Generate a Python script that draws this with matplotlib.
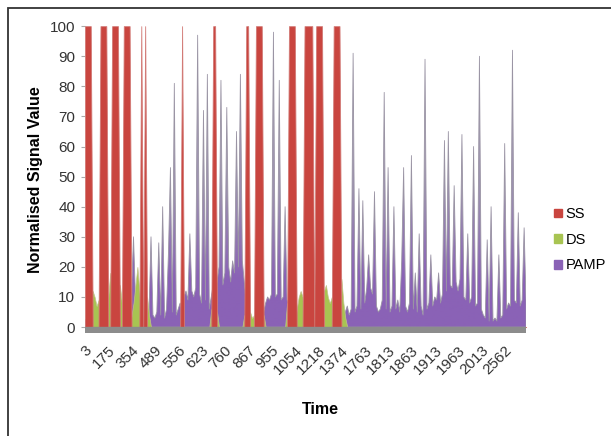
import numpy as np
import matplotlib
matplotlib.use('Agg')
import matplotlib.pyplot as plt
from matplotlib.patches import Patch, Rectangle, PathPatch
from matplotlib.path import Path
from matplotlib.colors import LinearSegmentedColormap

plt.rcParams['font.family'] = ['Liberation Sans', 'DejaVu Sans']

# Etiquetes de l'eix de temps (una cada 12 mostres)
time_labels = ['3', '175', '354', '489', '556', '623', '760', '867', '955', '1054',
               '1218', '1374', '1763', '1813', '1863', '1913', '1963', '2013', '2562']

# Senyal SS (una fila = 12 mostres)
ss = [100, 100, 100, 100, 0, 0, 0, 0, 100, 100, 100, 100,
      0, 0, 100, 100, 100, 100, 0, 0, 100, 100, 100, 100,
      0, 0, 0, 0, 0, 100, 0, 100, 0, 0, 0, 0,
      0, 0, 0, 0, 0, 0, 0, 0, 0, 0, 0, 0,
      0, 0, 100, 0, 0, 0, 0, 0, 0, 0, 0, 0,
      0, 0, 0, 0, 0, 0, 100, 100, 0, 0, 0, 0,
      0, 0, 0, 0, 0, 0, 0, 0, 0, 0, 0, 100,
      100, 0, 0, 0, 100, 100, 100, 100, 0, 0, 0, 0,
      0, 0, 0, 0, 0, 0, 0, 0, 0, 100, 100, 100,
      100, 0, 0, 0, 0, 100, 100, 100, 100, 100, 0, 100,
      100, 100, 100, 0, 0, 0, 0, 0, 100, 100, 100, 100,
      0, 0, 0, 0, 0, 0, 0, 0, 0, 0, 0, 0,
      0, 0, 0, 0, 0, 0, 0, 0, 0, 0, 0, 0,
      0, 0, 0, 0, 0, 0, 0, 0, 0, 0, 0, 0,
      0, 0, 0, 0, 0, 0, 0, 0, 0, 0, 0, 0,
      0, 0, 0, 0, 0, 0, 0, 0, 0, 0, 0, 0,
      0, 0, 0, 0, 0, 0, 0, 0, 0, 0, 0, 0,
      0, 0, 0, 0, 0, 0, 0, 0, 0, 0, 0, 0,
      0, 0, 0, 0, 0, 0, 0, 0, 0, 0, 0, 0]

# Senyal DS
ds = [0, 0, 0, 0, 12, 10, 7, 9, 0, 0, 0, 0,
      10, 18, 0, 0, 0, 0, 14, 8, 0, 0, 0, 0,
      4, 8, 14, 20, 12, 0, 15, 0, 10, 4, 0, 0,
      0, 0, 0, 0, 0, 0, 0, 0, 0, 0, 0, 0,
      0, 0, 0, 0, 0, 0, 0, 0, 0, 0, 0, 0,
      0, 0, 0, 0, 0, 6, 0, 0, 5, 0, 0, 0,
      0, 0, 0, 0, 0, 0, 0, 0, 0, 0, 4, 0,
      0, 5, 3, 4, 0, 0, 0, 0, 4, 0, 0, 0,
      0, 0, 0, 0, 0, 0, 0, 0, 8, 0, 0, 0,
      0, 6, 10, 12, 10, 0, 0, 0, 0, 0, 14, 0,
      0, 0, 0, 12, 14, 10, 8, 10, 0, 0, 0, 0,
      16, 8, 3, 0, 0, 0, 0, 0, 0, 0, 0, 0,
      0, 0, 0, 0, 0, 0, 0, 0, 0, 0, 0, 0,
      0, 0, 0, 0, 0, 0, 0, 0, 0, 0, 0, 0,
      0, 0, 0, 0, 0, 0, 0, 0, 0, 0, 0, 0,
      0, 0, 0, 0, 0, 0, 0, 0, 0, 0, 0, 0,
      0, 0, 0, 0, 0, 0, 0, 0, 0, 0, 0, 0,
      0, 0, 0, 0, 0, 0, 0, 0, 0, 0, 0, 0,
      0, 0, 0, 0, 0, 0, 0, 0, 0, 0, 0, 0]

# Senyal PAMP
pamp = [2, 3, 3, 4, 5, 4, 3, 2, 3, 3, 2, 5,
        6, 4, 3, 2, 3, 2, 4, 5, 3, 2, 4, 6,
        12, 30, 10, 5, 3, 2, 4, 3, 3, 5, 30, 4,
        3, 5, 28, 4, 40, 3, 6, 25, 53, 5, 81, 4,
        6, 8, 5, 10, 12, 9, 31, 12, 10, 13, 97, 11,
        8, 72, 9, 84, 6, 10, 14, 12, 15, 20, 82, 14,
        18, 73, 20, 15, 22, 18, 65, 20, 84, 22, 15, 8,
        5, 4, 2, 2, 3, 2, 2, 3, 5, 8, 10, 9,
        11, 98, 10, 11, 82, 9, 10, 40, 9, 8, 4, 3,
        3, 5, 4, 3, 3, 2, 2, 3, 2, 3, 4, 3,
        2, 3, 2, 4, 5, 6, 4, 3, 5, 3, 2, 3,
        3, 6, 5, 7, 4, 6, 91, 5, 7, 46, 6, 42,
        8, 13, 24, 13, 11, 45, 7, 5, 6, 9, 78, 6,
        53, 5, 7, 40, 6, 9, 5, 22, 53, 7, 5, 8,
        57, 6, 18, 5, 31, 7, 4, 89, 6, 8, 24, 7,
        10, 9, 18, 8, 11, 62, 12, 65, 14, 13, 47, 15,
        12, 16, 64, 10, 9, 31, 8, 10, 60, 7, 8, 90,
        6, 4, 3, 29, 2, 40, 2, 3, 2, 24, 3, 4,
        61, 6, 8, 7, 92, 9, 8, 38, 7, 9, 33, 8]

x = np.arange(len(pamp))
tick_step = 12
c_ss, c_ds, c_pamp = '#c9453f', '#a8c452', '#8a62b6'

fig = plt.figure(figsize=(6.11, 4.36), dpi=100)
ax = fig.add_axes([0.139, 0.236, 0.722, 0.704])

# PAMP al fons: lila a baix, gris a les puntes (com les cares del grafic 3D)
poly = ax.fill_between(x, 0, pamp, facecolor='none', edgecolor='#9a94a4', linewidth=0.6, zorder=2)
cmap = LinearSegmentedColormap.from_list('pamp', [(0, c_pamp), (0.16, c_pamp),
                                                  (0.45, '#9c90b0'), (1, '#b4aebe')])
grad = np.linspace(0, 1, 256).reshape(-1, 1)
im = ax.imshow(grad, extent=[0, len(pamp) - 1, 0, 100], origin='lower', aspect='auto',
               cmap=cmap, zorder=1.9)
clip = PathPatch(Path.make_compound_path(*poly.get_paths()), transform=ax.transData)
im.set_clip_path(clip)

ax.fill_between(x, 0, ds, facecolor=c_ds, edgecolor='#c3c28e', linewidth=0.5, zorder=3)
ax.fill_between(x, 0, ss, facecolor=c_ss, edgecolor='#d27a76', linewidth=0.6, zorder=4)

# Terra gris del grafic 3D
ax.axhspan(-2.0, 0, color='#8c8c8c', zorder=5)

ax.set_xlim(0, len(pamp) - 1)
ax.set_ylim(-2.0, 100)
ax.set_yticks(np.arange(0, 101, 10))
ax.set_xticks(x[::tick_step][:len(time_labels)])
ax.set_xticklabels(time_labels, rotation=45, ha='right', rotation_mode='anchor')
ax.tick_params(axis='y', labelsize=11, colors='#333333', length=3, color='#aaaaaa', pad=4)
ax.tick_params(axis='x', labelsize=11, colors='#333333', length=0, pad=7)
for s in ax.spines.values():
    s.set_visible(False)

ax.set_ylabel('Normalised Signal Value', fontsize=11.5, fontweight='bold', labelpad=5)
fig.text(0.524, 0.06, 'Time', fontsize=11.5, fontweight='bold', ha='center', va='center')

# Llegenda
handles = [Patch(color=c_ss), Patch(color=c_ds), Patch(color=c_pamp)]
fig.legend(handles, ['SS', 'DS', 'PAMP'], loc='center left', bbox_to_anchor=(0.89, 0.45),
           frameon=False, fontsize=10.5, handlelength=0.55, handleheight=0.55,
           handletextpad=0.25, labelspacing=0.8, borderpad=0.2)

# Marc exterior
fig.patches.append(Rectangle((8 / 611, -0.05), 1.0, 1 - 8 / 436 + 0.05, transform=fig.transFigure,
                             fill=False, edgecolor='#333333', linewidth=1.3))

fig.savefig('out.png', dpi=100)
